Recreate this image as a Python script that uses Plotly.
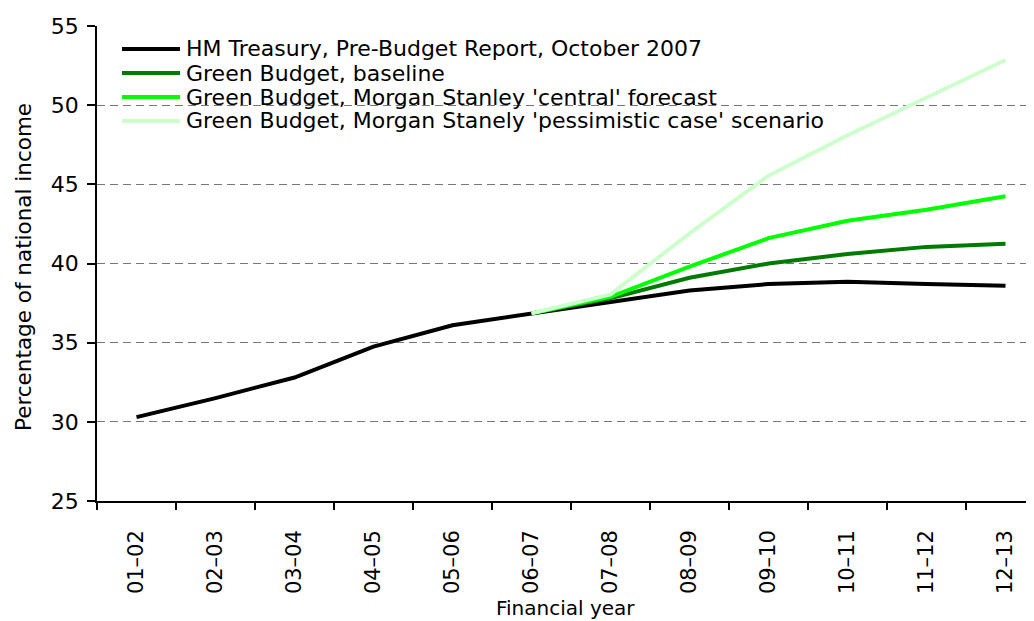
import plotly.graph_objects as go

anos = ["01–02", "02–03", "03–04", "04–05", "05–06", "06–07",
        "07–08", "08–09", "09–10", "10–11", "11–12", "12–13"]

hm_treasury = [30.3, 31.5, 32.8, 34.75, 36.1, 36.85, 37.6, 38.3, 38.7, 38.85, 38.7, 38.6]
baseline = [None, None, None, None, None, 36.85, 37.8, 39.1, 40.0, 40.6, 41.05, 41.25]
central = [None, None, None, None, None, 36.85, 37.9, 39.8, 41.6, 42.7, 43.4, 44.25]
pessimista = [None, None, None, None, None, 36.85, 38.05, 41.9, 45.55, 48.1, 50.45, 52.85]

nomes = [
    "HM Treasury, Pre-Budget Report, October 2007",
    "Green Budget, baseline",
    "Green Budget, Morgan Stanley 'central' forecast",
    "Green Budget, Morgan Stanely 'pessimistic case' scenario",
]
cores = ["#000000", "#007a00", "#00ff00", "#ccffcc"]

fonte = "DejaVu Sans, Arial, sans-serif"

# a pagina tem margem de 8px no body; coordenadas abaixo ja descontam isso
W, H = 1026, 613
esq, topo, base = 89, 18, 493
larg = W - esq
alt = base - topo


def px_x(p):
    return (p - esq) / larg


def px_y(p):
    return (base - p) / alt


fig = go.Figure()
for nome, valores, cor in zip(nomes, [hm_treasury, baseline, central, pessimista], cores):
    fig.add_trace(go.Scatter(
        x=anos, y=valores, name=nome, mode="lines",
        line=dict(color=cor, width=4),
        showlegend=False,
    ))

# legenda desenhada a mao (linhas mais longas e espacamento mais apertado)
for i, (nome, cor) in enumerate(zip(nomes, cores)):
    py = 41 + 24 * i
    fig.add_shape(type="line", xref="paper", yref="paper",
                  x0=px_x(114), x1=px_x(172), y0=px_y(py), y1=px_y(py),
                  line=dict(color=cor, width=4))
    fig.add_annotation(text=nome, xref="paper", yref="paper",
                       x=px_x(176), y=px_y(py), xanchor="left", yanchor="middle",
                       showarrow=False, font=dict(size=22, family=fonte, color="black"))

# titulos dos eixos
fig.add_annotation(text="Financial year", xref="paper", yref="paper",
                   x=px_x(557), y=px_y(600), xanchor="center", yanchor="middle",
                   showarrow=False, font=dict(size=20, family=fonte, color="black"))
fig.add_annotation(text="Percentage of national income", xref="paper", yref="paper",
                   x=px_x(15), y=px_y(259), xanchor="center", yanchor="middle",
                   textangle=-90, showarrow=False,
                   font=dict(size=21.5, family=fonte, color="black"))

largura_cat = 79.0
fim = -0.5 + larg / largura_cat

fig.update_layout(
    width=W, height=H,
    margin=dict(l=esq, r=0, t=topo, b=H - base),
    paper_bgcolor="white", plot_bgcolor="white",
    font=dict(family=fonte, size=22, color="black"),
    showlegend=False,
)

fig.update_xaxes(
    type="category", range=[-0.5, fim], automargin=False,
    showline=True, linecolor="black", linewidth=1.5,
    ticks="outside", tickson="boundaries", ticklen=7, tickcolor="black", tickwidth=1.5,
    tickangle=-90, ticklabelstandoff=19, tickfont=dict(size=21),
    showgrid=False, zeroline=False,
)

fig.update_yaxes(
    range=[25, 55], dtick=5, automargin=False,
    showline=True, linecolor="black", linewidth=1.5,
    ticks="outside", ticklen=8, tickcolor="black", tickwidth=1.5,
    ticklabelstandoff=4, tickfont=dict(size=22),
    showgrid=True, gridcolor="#777777", gridwidth=1, griddash="8px,5px",
    zeroline=False,
)

fig.write_html("out.html")
